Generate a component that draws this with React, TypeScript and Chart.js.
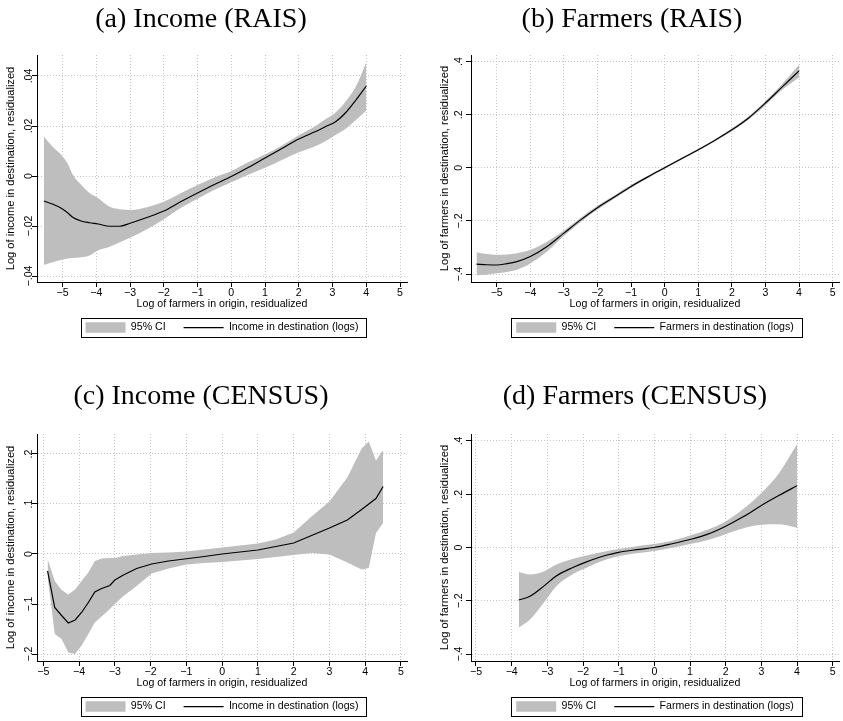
import React, { useEffect, useRef } from 'react';
import { Chart, registerables } from 'chart.js';

Chart.register(...registerables);
Chart.defaults.font.family = '"Liberation Sans", Arial, Helvetica, sans-serif';

// ---------- shared axis ticks ----------
const xTickValues = [-5, -4, -3, -2, -1, 0, 1, 2, 3, 4, 5];
const xTickLabels = ['−5', '−4', '−3', '−2', '−1', '0', '1', '2', '3', '4', '5'];
const xAxisTitle = 'Log of farmers in origin, residualized';

// ---------- (a) Income (RAIS) ----------
const xA = [-5.55, -5.3, -5.05, -4.85, -4.7, -4.45, -4.2, -3.95, -3.6, -3.3, -3.0, -2.5, -2.0, -1.5, -1.0, -0.5, 0, 0.5, 1.0, 1.5, 2.0, 2.5, 2.8, 3.1, 3.4, 3.7, 4.0];
const lineA = [-0.0100, -0.0112, -0.0128, -0.0147, -0.0165, -0.0180, -0.0187, -0.0192, -0.0201, -0.0201, -0.0189, -0.0166, -0.0140, -0.0103, -0.0068, -0.0034, -0.0002, 0.0034, 0.0072, 0.0110, 0.0148, 0.0178, 0.0198, 0.0218, 0.0255, 0.0305, 0.0360];
const upA = [0.0157, 0.0118, 0.0086, 0.0050, 0.0006, -0.0035, -0.0068, -0.0088, -0.0123, -0.0133, -0.0136, -0.0125, -0.0103, -0.0069, -0.0036, -0.0006, 0.0020, 0.0055, 0.0086, 0.0122, 0.0163, 0.0200, 0.0228, 0.0255, 0.0300, 0.0360, 0.0455];
const loA = [-0.0356, -0.0345, -0.0336, -0.0330, -0.0328, -0.0325, -0.0318, -0.0298, -0.0283, -0.0265, -0.0247, -0.0213, -0.0173, -0.0128, -0.0091, -0.0055, -0.0025, 0.0005, 0.0033, 0.0064, 0.0095, 0.0120, 0.0140, 0.0165, 0.0190, 0.0225, 0.0262];
const yTicksA = [-0.04, -0.02, 0, 0.02, 0.04];
const yLabelsA = ['−.04', '−.02', '0', '.02', '.04'];

// ---------- (b) Farmers (RAIS) ----------
const xB = [-5.6, -5.3, -5.0, -4.7, -4.4, -4.0, -3.5, -3.0, -2.5, -2.0, -1.5, -1.0, -0.5, 0, 0.5, 1.0, 1.5, 2.0, 2.5, 3.0, 3.5, 4.0];
const lineB = [-0.363, -0.365, -0.366, -0.361, -0.353, -0.334, -0.296, -0.246, -0.196, -0.150, -0.110, -0.070, -0.034, 0.0, 0.034, 0.068, 0.104, 0.143, 0.188, 0.244, 0.305, 0.365];
const upB = [-0.318, -0.325, -0.328, -0.326, -0.322, -0.309, -0.278, -0.236, -0.188, -0.143, -0.104, -0.065, -0.030, 0.004, 0.038, 0.072, 0.108, 0.148, 0.194, 0.252, 0.316, 0.388];
const loB = [-0.405, -0.403, -0.397, -0.392, -0.384, -0.360, -0.315, -0.257, -0.204, -0.157, -0.116, -0.075, -0.038, -0.004, 0.030, 0.064, 0.100, 0.138, 0.182, 0.236, 0.294, 0.340];
const yTicksB = [-0.4, -0.2, 0, 0.2, 0.4];
const yLabelsB = ['−.4', '−.2', '0', '.2', '.4'];

// ---------- (c) Income (CENSUS) ----------
const xC = [-4.88, -4.68, -4.49, -4.3, -4.11, -3.93, -3.74, -3.56, -3.37, -3.14, -3.0, -2.76, -2.39, -1.97, -1.5, -1.0, -0.5, 0, 0.5, 1.0, 1.5, 2.0, 2.5, 3.0, 3.5, 3.9, 4.1, 4.3, 4.5];
const lineC = [-0.034, -0.107, -0.123, -0.138, -0.132, -0.117, -0.097, -0.076, -0.069, -0.063, -0.052, -0.042, -0.029, -0.020, -0.014, -0.0095, -0.005, 0, 0.004, 0.008, 0.015, 0.022, 0.037, 0.052, 0.068, 0.089, 0.100, 0.111, 0.135];
const upC = [-0.010, -0.054, -0.072, -0.081, -0.071, -0.054, -0.037, -0.014, -0.009, -0.008, -0.008, -0.004, -0.001, 0.002, 0.003, 0.005, 0.009, 0.013, 0.017, 0.021, 0.029, 0.043, 0.075, 0.105, 0.153, 0.211, 0.225, 0.187, 0.208];
const loC = [-0.045, -0.160, -0.170, -0.197, -0.200, -0.183, -0.160, -0.137, -0.125, -0.110, -0.100, -0.084, -0.064, -0.039, -0.029, -0.021, -0.018, -0.016, -0.013, -0.010, -0.006, -0.002, 0.002, -0.001, -0.017, -0.031, -0.028, 0.042, 0.062];
const yTicksC = [-0.2, -0.1, 0, 0.1, 0.2];
const yLabelsC = ['−.2', '−.1', '0', '.1', '.2'];

// ---------- (d) Farmers (CENSUS) ----------
const xD = [-3.8, -3.5, -3.1, -2.75, -2.3, -1.9, -1.35, -1.0, -0.5, 0, 0.5, 1.0, 1.5, 2.0, 2.5, 3.0, 3.5, 4.0];
const lineD = [-0.197, -0.184, -0.145, -0.107, -0.076, -0.054, -0.029, -0.018, -0.008, 0.0, 0.014, 0.030, 0.050, 0.080, 0.116, 0.158, 0.196, 0.232];
const upD = [-0.092, -0.101, -0.090, -0.064, -0.043, -0.030, -0.014, -0.006, 0.005, 0.013, 0.025, 0.045, 0.068, 0.098, 0.145, 0.205, 0.280, 0.388];
const loD = [-0.300, -0.272, -0.207, -0.145, -0.101, -0.076, -0.045, -0.033, -0.022, -0.013, -0.001, 0.013, 0.028, 0.050, 0.072, 0.085, 0.087, 0.074];
const yTicksD = [-0.4, -0.2, 0, 0.2, 0.4];
const yLabelsD = ['−.4', '−.2', '0', '.2', '.4'];

const CI_COLOR = '#bebebe';
const GRID_COLOR = '#c4c4c4';
const CANVAS_H = 360;

type PanelCfg = {
  key: string;
  title: string;
  titleCenter: number;
  titleTop: number;
  left: number;
  top: number;
  width: number;
  xs: number[];
  line: number[];
  upper: number[];
  lower: number[];
  xMin: number; xMax: number; yMin: number; yMax: number;
  yTicks: number[]; yLabels: string[];
  yTitle: string;
  legendLabel: string;
  yAxisWidth: number;
  padRight: number;
  yTitlePad: number;
  yLabelOffset: number;
  smooth: boolean;
};

const panels: PanelCfg[] = [
  {
    key: 'a', title: '(a) Income (RAIS)', titleCenter: 201, titleTop: 4,
    left: 0, top: 0, width: 420,
    xs: xA, line: lineA, upper: upA, lower: loA,
    xMin: -5.756, xMax: 5.207, yMin: -0.0424, yMax: 0.0484,
    yTicks: yTicksA, yLabels: yLabelsA,
    yTitle: 'Log of income in destination, residualized',
    legendLabel: 'Income in destination (logs)',
    yAxisWidth: 37, padRight: 13, yTitlePad: 4, yLabelOffset: 5, smooth: true,
  },
  {
    key: 'b', title: '(b) Farmers (RAIS)', titleCenter: 632, titleTop: 4,
    left: 420, top: 0, width: 423,
    xs: xB, line: lineB, upper: upB, lower: loB,
    xMin: -5.765, xMax: 5.19, yMin: -0.43, yMax: 0.425,
    yTicks: yTicksB, yLabels: yLabelsB,
    yTitle: 'Log of farmers in destination, residualized',
    legendLabel: 'Farmers in destination (logs)',
    yAxisWidth: 51, padRight: 4, yTitlePad: 18, yLabelOffset: 9.5, smooth: true,
  },
  {
    key: 'c', title: '(c) Income (CENSUS)', titleCenter: 201, titleTop: 381,
    left: 0, top: 379, width: 420,
    xs: xC, line: lineC, upper: upC, lower: loC,
    xMin: -5.176, xMax: 5.168, yMin: -0.214, yMax: 0.24,
    yTicks: yTicksC, yLabels: yLabelsC,
    yTitle: 'Log of income in destination, residualized',
    legendLabel: 'Income in destination (logs)',
    yAxisWidth: 37, padRight: 13, yTitlePad: 4, yLabelOffset: 5, smooth: false,
  },
  {
    key: 'd', title: '(d) Farmers (CENSUS)', titleCenter: 635, titleTop: 381,
    left: 420, top: 379, width: 423,
    xs: xD, line: lineD, upper: upD, lower: loD,
    xMin: -5.14, xMax: 5.176, yMin: -0.426, yMax: 0.426,
    yTicks: yTicksD, yLabels: yLabelsD,
    yTitle: 'Log of farmers in destination, residualized',
    legendLabel: 'Farmers in destination (logs)',
    yAxisWidth: 51, padRight: 4, yTitlePad: 18, yLabelOffset: 9.5, smooth: true,
  },
];

function buildConfig(p: PanelCfg): any {
  const pts = (ys: number[]) => p.xs.map((x, i) => ({ x, y: ys[i] }));
  const interp = p.smooth ? 'monotone' : 'default';

  const rotYTicks = {
    id: 'rotYTicks',
    afterDraw(chart: any) {
      const s = chart.scales.y;
      const ctx = chart.ctx;
      ctx.save();
      ctx.fillStyle = '#000';
      ctx.font = '10.6px "Liberation Sans", Arial, Helvetica, sans-serif';
      ctx.textAlign = 'center';
      ctx.textBaseline = 'alphabetic';
      p.yTicks.forEach((v, i) => {
        const y = s.getPixelForValue(v);
        ctx.save();
        ctx.translate(chart.chartArea.left - p.yLabelOffset, y);
        ctx.rotate(-Math.PI / 2);
        ctx.fillText(p.yLabels[i], 0, 0);
        ctx.restore();
      });
      ctx.restore();
    },
  };

  const legendFrame = {
    id: 'legendFrame',
    afterDraw(chart: any) {
      const lg = chart.legend;
      if (!lg || !lg.legendHitBoxes || !lg.legendHitBoxes.length) return;
      const hb = lg.legendHitBoxes;
      const first = hb[0];
      const last = hb[hb.length - 1];
      const l = Math.round(first.left - 5) + 0.5;
      const r = Math.round(last.left + last.width + 8) + 0.5;
      const t = Math.round(first.top - 4) + 0.5;
      const ctx = chart.ctx;
      ctx.save();
      ctx.strokeStyle = '#000';
      ctx.lineWidth = 1;
      ctx.strokeRect(l, t, r - l, 19);
      ctx.restore();
    },
  };

  const gridOpts = {
    color: GRID_COLOR,
    lineWidth: 1,
    drawTicks: true,
    tickLength: 5,
    tickColor: '#000',
    tickWidth: 1,
  };
  const borderOpts = { display: true, color: '#000', width: 1, dash: [1, 2] };

  return {
    type: 'line',
    data: {
      datasets: [
        {
          label: p.legendLabel,
          data: pts(p.line),
          borderColor: '#000',
          borderWidth: 1.2,
          pointRadius: 0,
          fill: false,
          cubicInterpolationMode: interp,
          tension: 0,
        },
        {
          label: 'lower',
          data: pts(p.lower),
          borderColor: 'rgba(0,0,0,0)',
          borderWidth: 0,
          pointRadius: 0,
          fill: false,
          cubicInterpolationMode: interp,
          tension: 0,
        },
        {
          label: '95% CI',
          data: pts(p.upper),
          borderColor: 'rgba(0,0,0,0)',
          backgroundColor: CI_COLOR,
          borderWidth: 0,
          pointRadius: 0,
          fill: '-1',
          cubicInterpolationMode: interp,
          tension: 0,
        },
      ],
    },
    options: {
      responsive: false,
      animation: false,
      devicePixelRatio: 1,
      events: [],
      layout: { padding: { top: 55, left: 0, right: p.padRight, bottom: 17.15 } },
      plugins: {
        tooltip: { enabled: false },
        title: { display: false },
        legend: {
          display: true,
          position: 'bottom',
          fullSize: false,
          align: 'center',
          labels: {
            usePointStyle: true,
            pointStyleWidth: 40,
            padding: 18,
            color: '#000',
            font: { size: 10.6 },
            generateLabels: () => [
              {
                text: '95% CI', fillStyle: CI_COLOR, strokeStyle: CI_COLOR, lineWidth: 0,
                pointStyle: 'rect', hidden: false, datasetIndex: 2, fontColor: '#000',
              },
              {
                text: p.legendLabel, fillStyle: '#000', strokeStyle: '#000', lineWidth: 1.2,
                pointStyle: 'line', hidden: false, datasetIndex: 0, fontColor: '#000',
              },
            ],
          },
        },
      },
      scales: {
        x: {
          type: 'linear',
          min: p.xMin,
          max: p.xMax,
          afterBuildTicks: (s: any) => { s.ticks = xTickValues.map((v) => ({ value: v })); },
          afterFit: (s: any) => { s.height = 22.25; },
          ticks: {
            callback: (v: number) => xTickLabels[xTickValues.indexOf(Math.round(v))],
            color: '#000',
            font: { size: 10.6 },
            padding: 0,
            maxRotation: 0,
            minRotation: 0,
            autoSkip: false,
          },
          grid: gridOpts,
          border: borderOpts,
          title: {
            display: true,
            text: xAxisTitle,
            color: '#000',
            font: { size: 10.6 },
            padding: { top: 0, bottom: -6.36 },
          },
        },
        y: {
          type: 'linear',
          min: p.yMin,
          max: p.yMax,
          afterBuildTicks: (s: any) => { s.ticks = p.yTicks.map((v) => ({ value: v })); },
          afterFit: (s: any) => { s.width = p.yAxisWidth; },
          ticks: { display: false },
          grid: gridOpts,
          border: borderOpts,
          title: {
            display: true,
            text: p.yTitle,
            color: '#000',
            font: { size: 11.1 },
            padding: { top: p.yTitlePad, bottom: 0 },
          },
        },
      },
    },
    plugins: [rotYTicks, legendFrame],
  };
}

function Panel({ p }: { p: PanelCfg }) {
  const ref = useRef<HTMLCanvasElement | null>(null);
  useEffect(() => {
    if (!ref.current) return;
    const chart = new Chart(ref.current, buildConfig(p));
    return () => chart.destroy();
  }, [p]);
  return (
    <>
      <canvas
        ref={ref}
        width={p.width}
        height={CANVAS_H}
        style={{ position: 'absolute', left: p.left, top: p.top, width: p.width, height: CANVAS_H }}
      />
      <div
        style={{
          position: 'absolute',
          left: p.titleCenter - 200,
          top: p.titleTop,
          width: 400,
          textAlign: 'center',
          fontFamily: '"Liberation Serif", "Times New Roman", serif',
          fontSize: 28,
          lineHeight: '28px',
          color: '#000',
          whiteSpace: 'nowrap',
        }}
      >
        {p.title}
      </div>
    </>
  );
}

export default function App() {
  return (
    <div
      style={{
        position: 'absolute',
        left: 0,
        top: 0,
        width: 843,
        height: 721,
        overflow: 'hidden',
        background: '#fff',
      }}
    >
      {panels.map((p) => (
        <Panel key={p.key} p={p} />
      ))}
    </div>
  );
}
